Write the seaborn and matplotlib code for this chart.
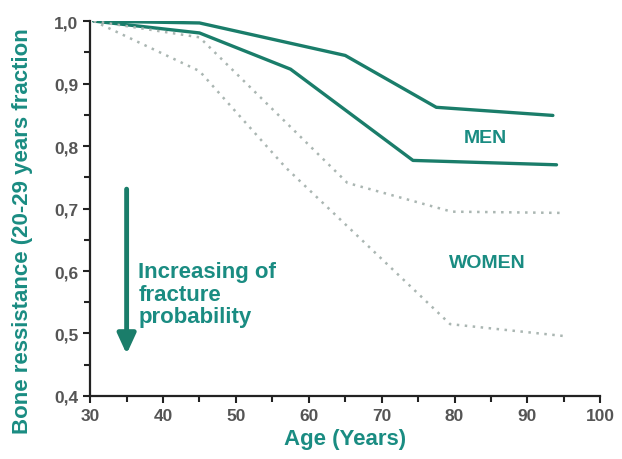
import matplotlib
matplotlib.use("Agg")
import matplotlib.pyplot as plt
from matplotlib.ticker import MultipleLocator, FuncFormatter
import pandas as pd
import seaborn as sns

# values (age in years, fraction of 20-29 yrs resistance)
men_hi_age = [30.5, 45, 65, 77.5, 93.5]
men_hi_val = [1.0, 0.997, 0.945, 0.862, 0.849]
men_lo_age = [30.5, 45, 57.5, 74.3, 94]
men_lo_val = [1.0, 0.981, 0.923, 0.777, 0.770]
women_hi_age = [30.5, 45, 65.3, 79.6, 94.5]
women_hi_val = [1.0, 0.974, 0.741, 0.695, 0.693]
women_lo_age = [30.5, 45, 56.8, 79.4, 95]
women_lo_val = [1.0, 0.92, 0.766, 0.515, 0.496]

line_col = "#1a7d6a"
text_col = "#1a8c82"
dot_col = "#aab6b2"

sns.set_style("ticks")
plt.rcParams["font.family"] = ["Liberation Sans", "DejaVu Sans"]

fig = plt.figure(figsize=(6.22, 4.60), dpi=100)
ax = fig.add_axes([0.145, 0.137, 0.82, 0.815])

series = [
    (men_hi_age, men_hi_val, "solid"),
    (men_lo_age, men_lo_val, "solid"),
    (women_hi_age, women_hi_val, "dotted"),
    (women_lo_age, women_lo_val, "dotted"),
]
for ages, vals, kind in series:
    df = pd.DataFrame({"age": ages, "val": vals})
    if kind == "solid":
        sns.lineplot(data=df, x="age", y="val", ax=ax, color=line_col,
                     linewidth=2.4, sort=False)
    else:
        sns.lineplot(data=df, x="age", y="val", ax=ax, color=dot_col,
                     linewidth=1.8, linestyle=(0, (1, 2.2)), sort=False)

ax.set_xlim(30, 100)
ax.set_ylim(0.4, 1.0)
ax.xaxis.set_major_locator(MultipleLocator(10))
ax.xaxis.set_minor_locator(MultipleLocator(5))
ax.yaxis.set_major_locator(MultipleLocator(0.1))
ax.yaxis.set_minor_locator(MultipleLocator(0.05))
ax.yaxis.set_major_formatter(FuncFormatter(lambda v, p: f"{v:.1f}".replace(".", ",")))
ax.tick_params(which="both", direction="out", width=1.5, color="#222222",
               labelsize=12.5, labelcolor="#555555")
ax.tick_params(which="major", length=5)
ax.tick_params(which="minor", length=4)
for lab in ax.get_xticklabels() + ax.get_yticklabels():
    lab.set_fontweight("bold")
sns.despine(ax=ax)
for sp in ["left", "bottom"]:
    ax.spines[sp].set_linewidth(1.6)
    ax.spines[sp].set_color("#222222")

ax.set_xlabel("Age (Years)", fontsize=16, fontweight="bold", color=text_col)
ax.set_ylabel("")
fig.text(0.036, 0.497, "Bone ressistance (20-29 years fraction", rotation=90,
         fontsize=16, fontweight="bold", color=text_col, ha="center", va="center")

ax.text(84.2, 0.814, "MEN", fontsize=14, fontweight="bold", color=text_col,
        ha="center", va="center")
ax.text(84.5, 0.614, "WOMEN", fontsize=14, fontweight="bold", color=text_col,
        ha="center", va="center")

ax.annotate("", xy=(35, 0.467), xytext=(35, 0.731),
            arrowprops=dict(arrowstyle="-|>,head_width=0.55,head_length=1.2",
                            color=line_col, lw=3.5, shrinkA=0, shrinkB=0))
ax.text(36.6, 0.616, "Increasing of\nfracture\nprobability", fontsize=16,
        fontweight="bold", color=text_col, ha="left", va="top", linespacing=1.1)

fig.savefig("out.png", dpi=100)
